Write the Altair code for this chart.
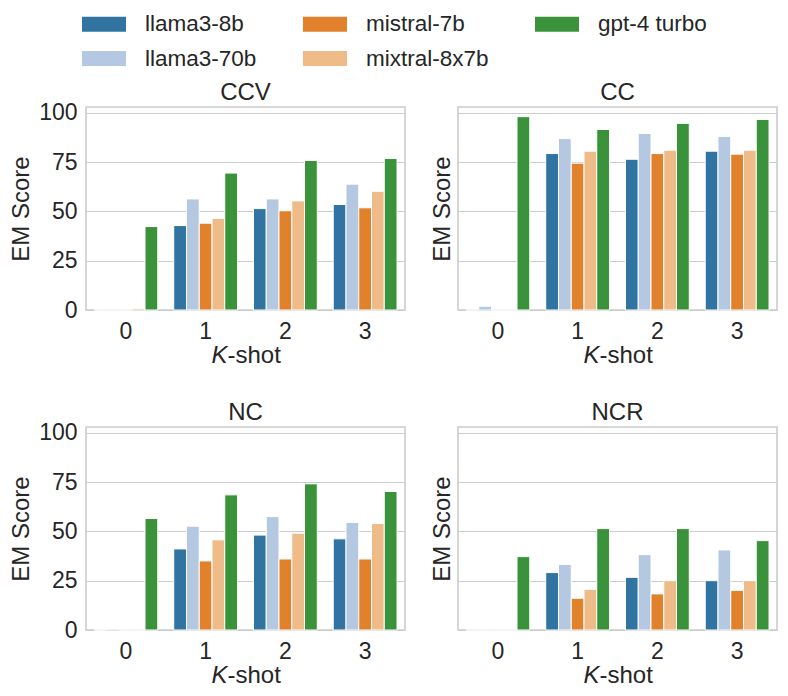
import altair as alt
import pandas as pd

models = ["llama3-8b", "llama3-70b", "mistral-7b", "mixtral-8x7b", "gpt-4 turbo"]
colors = ["#3274a1", "#b5c8e1", "#e1812c", "#eebb89", "#3a923a"]
shots = ["0", "1", "2", "3"]
tasks = ["CCV", "CC", "NC", "NCR"]

# scores per model, for K-shot 0..3
ccv_llama8 = [0.0, 42.8, 51.4, 53.5]
ccv_llama70 = [0.0, 56.3, 56.3, 63.8]
ccv_mistral = [0.0, 44.0, 50.3, 51.8]
ccv_mixtral = [0.8, 46.4, 55.3, 60.2]
ccv_gpt4 = [42.3, 69.4, 75.8, 76.8]

cc_llama8 = [0.0, 79.3, 76.4, 80.5]
cc_llama70 = [1.9, 86.9, 89.5, 88.0]
cc_mistral = [0.0, 74.4, 79.3, 79.0]
cc_mixtral = [0.0, 80.5, 81.0, 81.0]
cc_gpt4 = [98.0, 91.5, 94.6, 96.6]

nc_llama8 = [0.0, 41.1, 48.1, 46.2]
nc_llama70 = [0.5, 52.6, 57.5, 54.5]
nc_mistral = [0.0, 35.0, 36.0, 36.0]
nc_mixtral = [0.0, 45.7, 49.1, 54.0]
nc_gpt4 = [56.5, 68.5, 74.1, 70.2]

ncr_llama8 = [0.0, 29.1, 26.7, 25.0]
ncr_llama70 = [0.0, 33.2, 38.2, 40.6]
ncr_mistral = [0.0, 16.1, 18.3, 20.1]
ncr_mixtral = [0.0, 20.6, 25.0, 25.0]
ncr_gpt4 = [37.2, 51.4, 51.4, 45.3]

table = {
    "CCV": [ccv_llama8, ccv_llama70, ccv_mistral, ccv_mixtral, ccv_gpt4],
    "CC": [cc_llama8, cc_llama70, cc_mistral, cc_mixtral, cc_gpt4],
    "NC": [nc_llama8, nc_llama70, nc_mistral, nc_mixtral, nc_gpt4],
    "NCR": [ncr_llama8, ncr_llama70, ncr_mistral, ncr_mixtral, ncr_gpt4],
}

rows = []
for t in tasks:
    for m, vals in zip(models, table[t]):
        for s, v in zip(shots, vals):
            rows.append({"task": t, "model": m, "shot": s, "score": v})
df = pd.DataFrame(rows)

# legend is filled row by row with 3 columns -> reorder so it reads column-wise
legend_order = ["llama3-8b", "mistral-7b", "gpt-4 turbo", "llama3-70b", "mixtral-8x7b"]
legend_colors = [colors[models.index(m)] for m in legend_order]

FONT = "Liberation Sans, Arial, Helvetica, sans-serif"
TXT = "#262626"
W, H = 319, 203


def panel(task, left):
    base = alt.Chart(df[df.task == task])
    bars = base.mark_bar(stroke="white", strokeWidth=1).encode(
        x=alt.X(
            "shot:N",
            sort=shots,
            scale=alt.Scale(paddingInner=0.2, paddingOuter=0.1),
            axis=alt.Axis(title=None, labelAngle=0, ticks=False, domain=False,
                          grid=False, labelPadding=10, labelFontSize=23),
        ),
        xOffset=alt.XOffset("model:N", sort=models, scale=alt.Scale(paddingInner=0, paddingOuter=0)),
        y=alt.Y(
            "score:Q",
            scale=alt.Scale(domain=[0, 102.9], nice=False, zero=True),
            axis=alt.Axis(
                values=[0, 25, 50, 75, 100],
                title="EM Score",
                labels=left,
                ticks=False,
                domain=False,
                grid=True,
                labelPadding=9,
                labelFontSize=23,
                titleFontSize=24,
                titleFontWeight="normal",
                titlePadding=5 if left else 4,
            ),
        ),
        color=alt.Color(
            "model:N",
            scale=alt.Scale(domain=legend_order, range=legend_colors),
            legend=alt.Legend(
                title=None,
                orient="none",
                legendX=-4,
                legendY=-93,
                columns=3,
                direction="horizontal",
                symbolType="M-1,-0.34H1V0.34H-1Z",
                symbolSize=1936,
                symbolStrokeWidth=0,
                symbolOpacity=1,
                clipHeight=20,
                labelFontSize=22.5,
                labelOffset=19,
                columnPadding=46,
                rowPadding=11.5,
                labelFont=FONT,
                labelColor=TXT,
            ),
        ),
    )
    tdf = pd.DataFrame({"t": [task]})
    ttl = alt.Chart(tdf).mark_text(
        fontSize=24, font=FONT, color=TXT, align="center", baseline="alphabetic"
    ).encode(text="t:N", x=alt.value(W / 2), y=alt.value(-7))
    kdf = pd.DataFrame({"t": ["K"]})
    sdf = pd.DataFrame({"t": ["-shot"]})
    k = alt.Chart(kdf).mark_text(
        fontStyle="italic", fontSize=24, font=FONT, color=TXT, align="right", baseline="alphabetic"
    ).encode(text="t:N", x=alt.value(W / 2 - 18), y=alt.value(256))
    s = alt.Chart(sdf).mark_text(
        fontSize=24, font=FONT, color=TXT, align="left", baseline="alphabetic"
    ).encode(text="t:N", x=alt.value(W / 2 - 18), y=alt.value(256))
    return alt.layer(bars, ttl, k, s).properties(width=W, height=H)


top = alt.hconcat(panel("CCV", True), panel("CC", False), spacing=23)
bottom = alt.hconcat(panel("NC", True), panel("NCR", False), spacing=23)
chart = (
    alt.vconcat(top, bottom, spacing=31)
    .properties(padding={"left": 0, "top": 6, "right": 0, "bottom": 0}, background="white")
    .configure_view(stroke="#cccccc", strokeWidth=1.6)
    .configure_axis(
        gridColor="#cccccc",
        gridWidth=1.2,
        labelFont=FONT,
        titleFont=FONT,
        labelColor=TXT,
        titleColor=TXT,
    )
    .configure_concat(spacing=23)
)

chart.save("out.html", embed_options={"renderer": "svg", "actions": False})
